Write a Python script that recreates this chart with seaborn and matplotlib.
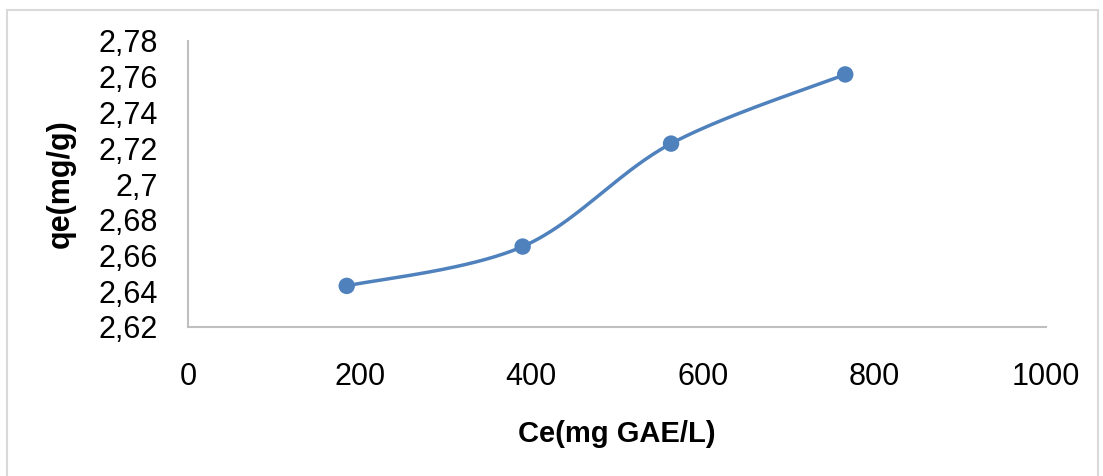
import numpy as np
import matplotlib
matplotlib.use("Agg")
import matplotlib.pyplot as plt
import seaborn as sns
import pandas as pd
from matplotlib.patches import Rectangle

# data
ce = [185, 390, 563, 766]
qe = [2.643, 2.665, 2.7226, 2.7613]
x_ticks = [0, 200, 400, 600, 800, 1000]
y_ticks = [2.62, 2.64, 2.66, 2.68, 2.70, 2.72, 2.74, 2.76, 2.78]

sns.set_theme(style="white")
plt.rcParams['font.family'] = ['Liberation Sans', 'DejaVu Sans']
plt.rcParams['text.color'] = 'black'
plt.rcParams['axes.labelcolor'] = 'black'

df = pd.DataFrame({"Ce": ce, "qe": qe})

fig = plt.figure(figsize=(11.03, 4.76), dpi=100)
ax = fig.add_axes([188/1103, 1-327/476, (1046-188)/1103, (327-41)/476])

# Excel-style smoothed line (Catmull-Rom through the data points)
P = np.column_stack([ce, qe]).astype(float)
Pext = np.vstack([P[0], P, P[-1]])
curve = []
t = np.linspace(0, 1, 60)
for i in range(1, len(Pext) - 2):
    p0, p1, p2, p3 = Pext[i-1], Pext[i], Pext[i+1], Pext[i+2]
    b1 = p1 + (p2 - p0) / 6
    b2 = p2 - (p3 - p1) / 6
    seg = ((1-t)**3)[:, None]*p1 + (3*(1-t)**2*t)[:, None]*b1 + (3*(1-t)*t**2)[:, None]*b2 + (t**3)[:, None]*p2
    curve.append(seg)
curve = np.vstack(curve)
sns.lineplot(x=curve[:, 0], y=curve[:, 1], ax=ax, color="#4f81bd", linewidth=2.5, sort=False, estimator=None)
sns.scatterplot(data=df, x="Ce", y="qe", ax=ax, color="#4f81bd", s=140, edgecolor="none", zorder=5)

ax.set_xlim(0, 1000)
ax.set_ylim(2.62, 2.78)
ax.set_xticks(x_ticks)
ax.set_xticklabels([str(v) for v in x_ticks])
ax.set_yticks(y_ticks)
ax.set_yticklabels([f"{v:.2f}".rstrip("0").replace(".", ",") for v in y_ticks])
ax.tick_params(axis="both", length=0, labelsize=22, colors="black")
ax.tick_params(axis="x", pad=25)
ax.tick_params(axis="y", pad=22)
for s in ["top", "right"]:
    ax.spines[s].set_visible(False)
for s in ["left", "bottom"]:
    ax.spines[s].set_color("#bfbfbf")
    ax.spines[s].set_linewidth(1.5)
ax.grid(False)

ax.set_xlabel("Ce(mg GAE/L)", fontsize=21, fontweight="bold", labelpad=20, color="black")
ax.set_ylabel("qe(mg/g)", fontsize=22, fontweight="bold", labelpad=16, color="black")

fig.patches.append(Rectangle((7/1103, -0.05), (1098-7)/1103, 1.05 - 10/476, transform=fig.transFigure,
                             fill=False, edgecolor="#d9d9d9", linewidth=1.5))

fig.savefig("out.png", dpi=100)
